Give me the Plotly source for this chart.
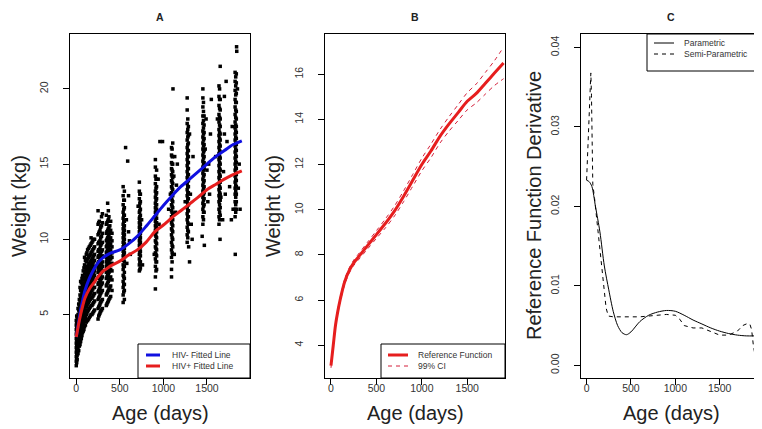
import plotly.graph_objects as go

W, H = 762, 429

# ---------------- Panel A: observed weights ----------------
# Each visit column: age (days) and the weights (kg) recorded in that column
col_ages = [0, 10, 20, 35, 50, 65, 80, 95, 115, 130, 150, 170, 190, 210, 250, 265, 280, 300, 345, 360, 375, 395, 410,
            538, 552, 724, 736, 908, 922, 1093, 1107, 1273, 1287, 1453, 1467, 1638, 1652, 1823, 1837,
            5, 28, 43, 58, 72, 88, 105, 122, 140, 160, 180, 200, 258, 272, 290, 352, 368, 385,
            545, 730, 915, 1100, 1280, 1460, 1645, 1830]
col_weights = [
    [1.6, 1.9, 2.2, 2.5, 2.8, 3.1, 3.4, 3.7, 4.0, 4.3, 4.6],
    [2.0, 2.3, 2.6, 2.9, 3.2, 3.5, 3.8, 4.1, 4.4, 4.8],
    [2.4, 2.8, 3.1, 3.4, 3.7, 4.0, 4.3, 4.6, 5.0, 5.4],
    [2.9, 3.3, 3.7, 4.0, 4.3, 4.6, 4.9, 5.2, 5.6, 6.0],
    [3.2, 3.7, 4.1, 4.5, 4.8, 5.1, 5.4, 5.7, 6.1, 6.6, 7.2],
    [3.6, 4.1, 4.5, 4.9, 5.2, 5.5, 5.8, 6.1, 6.4, 6.8, 7.4],
    [3.9, 4.4, 4.9, 5.3, 5.6, 5.9, 6.2, 6.5, 6.9, 7.3, 7.9],
    [4.2, 4.7, 5.2, 5.6, 6.0, 6.3, 6.6, 6.9, 7.3, 7.7, 8.3, 8.8],
    [4.5, 5.0, 5.5, 5.9, 6.3, 6.6, 6.9, 7.2, 7.6, 8.0, 8.5, 9.0],
    [4.6, 5.2, 5.7, 6.1, 6.5, 6.8, 7.1, 7.4, 7.8, 8.2, 8.7, 9.3],
    [4.8, 5.4, 5.9, 6.3, 6.7, 7.0, 7.3, 7.6, 8.0, 8.4, 8.9, 9.5],
    [5.0, 5.6, 6.1, 6.5, 6.9, 7.2, 7.5, 7.8, 8.2, 8.6, 9.1, 9.7, 10.1],
    [5.1, 5.7, 6.2, 6.7, 7.1, 7.4, 7.7, 8.0, 8.4, 8.8, 9.3, 9.9],
    [5.3, 5.9, 6.4, 6.8, 7.2, 7.6, 7.9, 8.2, 8.6, 9.0, 9.5, 10.0],
    [4.7, 5.4, 6.0, 6.5, 7.0, 7.4, 7.8, 8.1, 8.4, 8.8, 9.2, 9.7, 10.3, 11.0, 11.9],
    [5.0, 5.6, 6.2, 6.7, 7.1, 7.5, 7.9, 8.2, 8.5, 8.9, 9.3, 9.8, 10.5, 11.2],
    [5.2, 5.8, 6.4, 6.9, 7.3, 7.7, 8.0, 8.3, 8.7, 9.1, 9.6, 10.1, 10.8],
    [5.4, 6.0, 6.6, 7.1, 7.5, 7.9, 8.2, 8.5, 8.9, 9.3, 9.8, 10.4, 11.1, 11.7],
    [5.6, 6.3, 6.9, 7.4, 7.8, 8.2, 8.5, 8.8, 9.1, 9.5, 9.9, 10.4, 11.0, 11.6],
    [5.8, 6.5, 7.1, 7.6, 8.0, 8.4, 8.7, 9.0, 9.3, 9.7, 10.1, 10.6, 11.2, 12.4],
    [6.0, 6.7, 7.3, 7.8, 8.2, 8.6, 8.9, 9.2, 9.5, 9.9, 10.3, 10.8, 11.5],
    [6.2, 6.9, 7.5, 8.0, 8.4, 8.7, 9.0, 9.3, 9.7, 10.1, 10.6, 11.2],
    [6.6, 7.3, 7.9, 8.4, 8.8, 9.1, 9.5, 9.9, 10.4],
    [5.8, 6.3, 6.8, 7.2, 7.6, 8.0, 8.3, 8.6, 8.9, 9.2, 9.5, 9.8, 10.1, 10.4, 10.7, 11.0, 11.4, 11.8, 12.3, 12.9, 13.5],
    [6.0, 6.6, 7.0, 7.4, 7.8, 8.2, 8.5, 8.8, 9.1, 9.4, 9.7, 10.0, 10.3, 10.6, 10.9, 11.2, 11.6, 12.1, 12.6, 13.2],
    [7.9, 8.3, 8.7, 9.0, 9.3, 9.6, 9.9, 10.2, 10.5, 10.8, 11.1, 11.4, 11.8, 12.2, 12.7, 13.2, 13.8],
    [8.1, 8.5, 8.9, 9.2, 9.5, 9.8, 10.1, 10.4, 10.7, 11.0, 11.3, 11.6, 12.0, 12.5, 13.0],
    [6.7, 7.5, 8.2, 8.7, 9.1, 9.5, 9.9, 10.3, 10.6, 10.9, 11.2, 11.5, 11.8, 12.1, 12.4, 12.8, 13.2, 13.7, 14.2, 14.8, 15.3],
    [8.0, 8.5, 8.9, 9.3, 9.7, 10.1, 10.5, 10.8, 11.1, 11.4, 11.7, 12.0, 12.3, 12.7, 13.1, 13.5, 14.0, 14.6],
    [7.5, 8.0, 8.8, 9.3, 9.8, 10.3, 10.7, 11.1, 11.5, 11.9, 12.3, 12.7, 13.1, 13.5, 13.9, 14.3, 14.7, 15.1, 15.6, 16.1],
    [9.0, 9.5, 10.0, 10.5, 10.9, 11.3, 11.7, 12.1, 12.5, 12.9, 13.3, 13.7, 14.1, 14.5, 15.0, 15.5, 16.4],
    [9.8, 10.3, 10.8, 11.3, 11.7, 12.1, 12.5, 12.9, 13.3, 13.7, 14.1, 14.5, 14.9, 15.3, 15.7, 16.1, 16.6, 17.1, 17.7, 18.6, 19.4],
    [10.5, 11.0, 11.5, 11.9, 12.3, 12.7, 13.1, 13.5, 13.9, 14.3, 14.7, 15.1, 15.5, 15.9, 16.4, 16.9, 17.5],
    [11.0, 11.5, 12.0, 12.4, 12.8, 13.2, 13.6, 14.0, 14.4, 14.8, 15.2, 15.6, 16.0, 16.4, 16.8, 17.2, 17.7, 18.2, 18.8, 19.4, 20.0],
    [11.8, 12.3, 12.7, 13.1, 13.5, 13.9, 14.3, 14.7, 15.1, 15.5, 15.9, 16.3, 16.7, 17.1, 17.6, 18.2],
    [11.0, 11.5, 12.0, 12.5, 12.9, 13.3, 13.7, 14.1, 14.5, 14.9, 15.3, 15.7, 16.1, 16.5, 16.9, 17.3, 17.8, 18.3, 18.9, 19.5, 20.2],
    [11.6, 12.1, 12.6, 13.0, 13.4, 13.8, 14.2, 14.6, 15.0, 15.4, 15.8, 16.2, 16.6, 17.0, 17.5, 18.0, 18.6, 19.3, 21.5],
    [11.5, 12.0, 12.5, 13.0, 13.4, 13.8, 14.2, 14.6, 15.0, 15.4, 15.8, 16.2, 16.6, 17.0, 17.4, 17.8, 18.3, 18.8, 19.3, 19.9, 20.5, 21.1],
    [12.0, 12.5, 13.0, 13.5, 13.9, 14.3, 14.7, 15.1, 15.5, 15.9, 16.3, 16.7, 17.1, 17.5, 18.0, 18.5, 19.1, 19.7, 20.4, 21.0],
    [1.8, 2.1, 2.4, 2.7, 3.0, 3.3, 3.6, 3.9, 4.2, 4.5, 4.9],
    [2.6, 3.0, 3.5, 3.8, 4.1, 4.4, 4.7, 5.0, 5.3, 5.7],
    [3.0, 3.5, 3.9, 4.3, 4.6, 4.9, 5.2, 5.5, 5.9, 6.3, 6.8],
    [3.4, 3.9, 4.3, 4.7, 5.0, 5.3, 5.6, 5.9, 6.2, 6.6, 7.1],
    [3.8, 4.3, 4.7, 5.1, 5.4, 5.7, 6.0, 6.3, 6.6, 7.0, 7.6],
    [4.0, 4.6, 5.0, 5.4, 5.8, 6.1, 6.4, 6.7, 7.1, 7.5, 8.1],
    [4.3, 4.8, 5.3, 5.7, 6.1, 6.4, 6.7, 7.0, 7.4, 7.8, 8.2, 8.6],
    [4.6, 5.1, 5.6, 6.0, 6.4, 6.7, 7.0, 7.3, 7.7, 8.1, 8.6, 9.1],
    [4.7, 5.3, 5.8, 6.2, 6.6, 6.9, 7.2, 7.5, 7.9, 8.3, 8.8, 9.4],
    [4.9, 5.5, 6.0, 6.4, 6.8, 7.1, 7.4, 7.7, 8.1, 8.5, 9.0, 9.6],
    [5.0, 5.6, 6.1, 6.6, 7.0, 7.3, 7.6, 7.9, 8.3, 8.7, 9.2, 9.8],
    [5.2, 5.8, 6.3, 6.8, 7.2, 7.5, 7.8, 8.1, 8.5, 8.9, 9.4, 10.0],
    [4.9, 5.5, 6.1, 6.6, 7.1, 7.5, 7.9, 8.2, 8.5, 8.9, 9.3, 9.8, 10.4, 11.1],
    [5.1, 5.7, 6.3, 6.8, 7.2, 7.6, 8.0, 8.3, 8.6, 9.0, 9.4, 9.9, 10.6],
    [5.3, 5.9, 6.5, 7.0, 7.4, 7.8, 8.1, 8.4, 8.8, 9.2, 9.7, 10.2, 10.9, 11.5],
    [5.7, 6.4, 7.0, 7.5, 7.9, 8.3, 8.6, 8.9, 9.2, 9.6, 10.0, 10.5, 11.1],
    [5.9, 6.6, 7.2, 7.7, 8.1, 8.5, 8.8, 9.1, 9.4, 9.8, 10.2, 10.7, 11.3, 11.9],
    [6.1, 6.8, 7.4, 7.9, 8.3, 8.7, 9.0, 9.3, 9.6, 10.0, 10.4, 10.9],
    [6.5, 7.0, 7.5, 8.2, 8.7, 9.0, 9.3, 9.6, 9.9, 10.2, 10.5, 10.8, 11.2, 11.6, 12.0, 12.6],
    [8.0, 8.5, 9.1, 9.4, 9.7, 10.0, 10.3, 10.6, 10.9, 11.2, 11.5, 11.9, 12.4, 13.0],
    [7.9, 8.5, 9.0, 9.4, 9.8, 10.2, 10.5, 10.8, 11.1, 11.4, 11.7, 12.0, 12.3, 12.6, 13.0, 13.4, 14.0],
    [8.5, 9.1, 9.6, 10.1, 10.6, 11.0, 11.4, 11.8, 12.2, 12.6, 13.0, 13.4, 13.8, 14.2, 14.6, 15.0, 15.5, 16.0],
    [10.1, 10.6, 11.1, 11.5, 11.9, 12.3, 12.7, 13.1, 13.5, 13.9, 14.3, 14.7, 15.1, 15.5, 15.9, 16.3, 16.8, 17.3, 18.0],
    [11.3, 11.8, 12.2, 12.6, 13.0, 13.4, 13.8, 14.2, 14.6, 15.0, 15.4, 15.8, 16.2, 16.6, 17.0, 17.4, 17.9, 18.5, 19.1],
    [11.3, 11.8, 12.3, 12.7, 13.1, 13.5, 13.9, 14.3, 14.7, 15.1, 15.5, 15.9, 16.3, 16.7, 17.1, 17.6, 18.1, 18.7, 19.3, 20.0],
    [11.8, 12.3, 12.8, 13.2, 13.6, 14.0, 14.4, 14.8, 15.2, 15.6, 16.0, 16.4, 16.8, 17.2, 17.6, 18.1, 18.6, 19.1, 19.6, 20.2, 20.8],
]
# isolated observations between visit columns
outlier_age = [566, 590, 600, 620, 580, 600, 575, 610, 760, 750, 710, 960, 990, 940, 950, 895,
               1110, 1120, 1130, 1140, 1060, 1080, 1150, 1160, 1125, 1300, 1330, 1310, 1340, 1250, 1300, 1320, 1290,
               1470, 1500, 1520, 1540, 1490, 1550, 1510, 1530, 1480, 1445,
               1650, 1600, 1620, 1700, 1720, 1690, 1710, 1680, 1730, 1700, 1660,
               1840, 1842, 1825, 1800, 1860, 1870, 1780, 1790, 1850, 1760, 1880]
outlier_wt = [16.1, 15.2, 10.5, 9.0, 8.4, 12.9, 11.3, 9.9, 8.3, 11.3, 12.2, 16.5, 16.5, 14.0, 11.0, 9.0,
              20.0, 14.2, 15.5, 11.8, 12.0, 13.0, 13.6, 15.0, 9.0, 8.5, 10.0, 13.0, 15.5, 12.5, 17.0, 11.0, 9.5,
              9.6, 14.6, 15.0, 17.0, 18.0, 19.3, 12.5, 13.0, 16.0, 10.2,
              10.0, 15.5, 18.0, 17.0, 20.5, 14.5, 13.0, 11.3, 16.5, 19.5, 12.8,
              22.8, 22.5, 9.0, 12.0, 13.4, 15.0, 11.3, 17.5, 20.0, 13.5, 12.0]

# Fitted lines (panel A)
a_age = [0, 25, 50, 75, 100, 150, 200, 250, 300, 350, 400, 500, 600, 700, 800, 900,
         1000, 1100, 1200, 1300, 1400, 1500, 1600, 1700, 1800, 1900]
a_hiv_neg = [3.5, 4.4, 5.3, 6.0, 6.6, 7.4, 8.0, 8.45, 8.75, 8.95, 9.1, 9.3, 9.7, 10.2, 10.85, 11.55,
             12.25, 12.9, 13.5, 14.0, 14.5, 15.0, 15.5, 15.9, 16.3, 16.55]
a_hiv_pos = [3.5, 4.3, 5.0, 5.6, 6.1, 6.7, 7.1, 7.5, 7.85, 8.05, 8.25, 8.55, 8.95, 9.3, 9.8, 10.5,
             10.95, 11.45, 11.9, 12.35, 12.8, 13.3, 13.65, 14.0, 14.3, 14.55]

# Panel B: reference function with 99% CI
b_age = [0, 25, 50, 75, 100, 150, 200, 250, 300, 400, 500, 600, 700, 800, 900, 1000,
         1100, 1200, 1300, 1400, 1500, 1600, 1700, 1800, 1900]
b_ref = [3.1, 4.0, 4.9, 5.5, 6.0, 6.8, 7.3, 7.65, 7.9, 8.4, 8.9, 9.4, 9.95, 10.6, 11.3, 12.0,
         12.6, 13.25, 13.8, 14.3, 14.8, 15.15, 15.6, 16.05, 16.5]
b_upper = [3.2, 4.1, 5.0, 5.6, 6.1, 6.92, 7.42, 7.77, 8.03, 8.55, 9.07, 9.6, 10.17, 10.84, 11.56, 12.28,
           12.9, 13.55, 14.12, 14.65, 15.18, 15.57, 16.08, 16.6, 17.2]
b_lower = [3.0, 3.9, 4.8, 5.4, 5.9, 6.68, 7.18, 7.53, 7.77, 8.25, 8.73, 9.2, 9.73, 10.36, 11.04, 11.72,
           12.3, 12.95, 13.48, 13.95, 14.42, 14.73, 15.12, 15.5, 15.8]

# Panel C: reference function derivative
c_age_par = [0, 30, 60, 100, 150, 200, 250, 300, 350, 400, 450, 500, 600, 700, 800, 900,
             1000, 1100, 1200, 1300, 1400, 1500, 1600, 1700, 1800, 1900]
c_par = [0.0233, 0.0231, 0.0225, 0.0200, 0.0168, 0.0125, 0.0095, 0.0068, 0.0050, 0.0041, 0.00385, 0.0042,
         0.0055, 0.0063, 0.0067, 0.0069, 0.0068, 0.0063, 0.0057, 0.0052, 0.0047, 0.0043, 0.0040, 0.0038,
         0.0037, 0.0037]
c_age_semi = [0, 10, 25, 40, 48, 55, 62, 70, 90, 120, 150, 180, 200, 220, 245, 300, 400, 500, 600, 700,
              800, 900, 1000, 1050, 1100, 1200, 1300, 1400, 1500, 1600, 1700, 1760, 1800, 1840, 1860, 1880, 1900]
c_semi = [0.0233, 0.0262, 0.0320, 0.0355, 0.0368, 0.0340, 0.0280, 0.0228, 0.0210, 0.0178, 0.0145, 0.0110,
          0.0089, 0.0072, 0.0062, 0.0061, 0.0061, 0.0061, 0.0061, 0.0062, 0.0063, 0.0064, 0.0063, 0.0058,
          0.0050, 0.0047, 0.0047, 0.0043, 0.0038, 0.0038, 0.0043, 0.0050, 0.0052, 0.0052, 0.0045, 0.0025, 0.0012]

panel_titles = ["A", "B", "C"]
x_title = "Age (days)"
y_titles = ["Weight (kg)", "Weight (kg)", "Reference Function Derivative"]
legend_a = ["HIV- Fitted Line", "HIV+ Fitted Line"]
legend_b = ["Reference Function", "99% CI"]
legend_c = ["Parametric", "Semi-Parametric"]

BLUE = "#1010e0"
RED = "#e61e1e"
DRED = "#d41f3a"
FONT = "Liberation Sans, Arial, sans-serif"

def px(p):
    return p / W

def py(p):
    return 1 - p / H

fig = go.Figure()

sc_x, sc_y = [], []
for a, ws in zip(col_ages, col_weights):
    for w in ws:
        sc_x.append(a)
        sc_y.append(w)
sc_x += outlier_age
sc_y += outlier_wt

fig.add_trace(go.Scatter(x=sc_x, y=sc_y, mode="markers", xaxis="x", yaxis="y",
                         marker=dict(symbol="square", size=3.5, color="black", line=dict(width=0)),
                         showlegend=False, hoverinfo="skip"))
fig.add_trace(go.Scatter(x=a_age, y=a_hiv_neg, mode="lines", xaxis="x", yaxis="y", line=dict(color=BLUE, width=3, shape="spline", smoothing=0.8), showlegend=False))
fig.add_trace(go.Scatter(x=a_age, y=a_hiv_pos, mode="lines", xaxis="x", yaxis="y", line=dict(color=RED, width=3, shape="spline", smoothing=0.8), showlegend=False))

fig.add_trace(go.Scatter(x=b_age, y=b_upper, mode="lines", xaxis="x2", yaxis="y2", line=dict(color=DRED, width=1, dash="4px,4px", shape="spline", smoothing=0.8), showlegend=False))
fig.add_trace(go.Scatter(x=b_age, y=b_lower, mode="lines", xaxis="x2", yaxis="y2", line=dict(color=DRED, width=1, dash="4px,4px", shape="spline", smoothing=0.8), showlegend=False))
fig.add_trace(go.Scatter(x=b_age, y=b_ref, mode="lines", xaxis="x2", yaxis="y2", line=dict(color=RED, width=3, shape="spline", smoothing=0.8), showlegend=False))

fig.add_trace(go.Scatter(x=c_age_par, y=c_par, mode="lines", xaxis="x3", yaxis="y3", line=dict(color="black", width=1, shape="spline", smoothing=0.8), showlegend=False))
fig.add_trace(go.Scatter(x=c_age_semi, y=c_semi, mode="lines", xaxis="x3", yaxis="y3", line=dict(color="black", width=1, dash="4px,4px"), showlegend=False))

ydom = [py(370), py(26)]
boxes = [(62, 242), (317, 497), (573, 753)]

axis_common = dict(showline=True, mirror=True, linecolor="black", linewidth=1, ticks="outside",
                   ticklen=6, tickcolor="black", showgrid=False, zeroline=False,
                   tickfont=dict(family=FONT, size=10.5, color="#333"))
xstyle = dict(ticklabelstandoff=-6, **axis_common)
ystyle = dict(ticklabelstandoff=11, tickangle=-90, **axis_common)

layout = dict(width=W, height=H, margin=dict(l=0, r=0, t=0, b=0), autosize=False,
              paper_bgcolor="white", plot_bgcolor="white", showlegend=False)

layout["xaxis"] = dict(domain=[px(62), px(242)], range=[-72, 1994], anchor="y",
                       tickvals=[0, 500, 1000, 1500], **xstyle)
layout["yaxis"] = dict(domain=ydom, range=[0.78, 23.65], anchor="x",
                       tickvals=[5, 10, 15, 20], **ystyle)
layout["xaxis2"] = dict(domain=[px(317), px(497)], range=[-66, 1916], anchor="y2",
                        tickvals=[0, 500, 1000, 1500], **xstyle)
layout["yaxis2"] = dict(domain=ydom, range=[2.55, 17.78], anchor="x2",
                        tickvals=[4, 6, 8, 10, 12, 14, 16], **ystyle)
layout["xaxis3"] = dict(domain=[px(573), px(753)], range=[-63, 1966], anchor="y3",
                        tickvals=[0, 500, 1000, 1500], **xstyle)
layout["yaxis3"] = dict(domain=ydom, range=[-0.0016, 0.0417], anchor="x3",
                        tickvals=[0, 0.01, 0.02, 0.03, 0.04], tickformat=".2f", **ystyle)

ann = []
title_x = [152, 407, 663]
ytitle_x = [11, 265, 526]
for i in range(3):
    ann.append(dict(text="<b>%s</b>" % panel_titles[i], x=px(title_x[i]), y=py(1), xref="paper", yref="paper",
                    showarrow=False, xanchor="center", yanchor="top", font=dict(family=FONT, size=10.5, color="#222")))
    ann.append(dict(text=x_title, x=px((boxes[i][0] + boxes[i][1]) / 2), y=py(405), xref="paper", yref="paper",
                    showarrow=False, xanchor="center", yanchor="middle", font=dict(family=FONT, size=20, color="#222")))
    ann.append(dict(text=y_titles[i], x=px(ytitle_x[i]), y=py(198), xref="paper", yref="paper", textangle=-90,
                    showarrow=False, xanchor="center", yanchor="middle", font=dict(family=FONT, size=20, color="#222")))

shapes = []
legends = [
    (130, 242, 336, 370, 138, 152, 162, [347, 358], [(BLUE, 3, "solid"), (RED, 3, "solid")], legend_a),
    (373, 497, 336, 370, 380, 400, 408, [347, 358], [(RED, 3, "solid"), (DRED, 1, "4px,4px")], legend_b),
    (639, 753, 26, 63, 646, 666, 674, [35, 46], [("black", 1, "solid"), ("black", 1, "4px,4px")], legend_c),
]
for (x0, x1, y0, y1, lx0, lx1, tx, rows, styles, labels) in legends:
    shapes.append(dict(type="rect", xref="paper", yref="paper", x0=px(x0), x1=px(x1), y0=py(y1), y1=py(y0),
                       line=dict(color="black", width=1), fillcolor="white", layer="above"))
    for r, (col, wd, ds), lab in zip(rows, styles, labels):
        shapes.append(dict(type="line", xref="paper", yref="paper", x0=px(lx0), x1=px(lx1), y0=py(r), y1=py(r),
                           line=dict(color=col, width=wd, dash=ds), layer="above"))
        ann.append(dict(text=lab, x=px(tx), y=py(r), xref="paper", yref="paper", showarrow=False,
                        xanchor="left", yanchor="middle", font=dict(family=FONT, size=8.5, color="#333")))

layout["annotations"] = ann
layout["shapes"] = shapes
fig.update_layout(**layout)

fig.write_html("out.html")
